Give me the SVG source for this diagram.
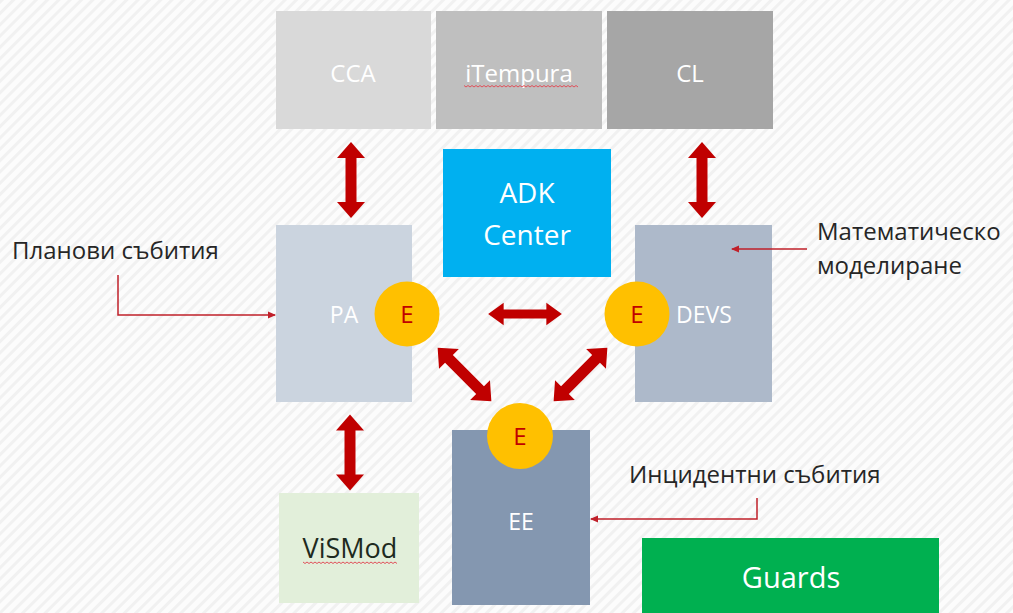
<svg xmlns="http://www.w3.org/2000/svg" xmlns:xlink="http://www.w3.org/1999/xlink" width="1013" height="613" viewBox="0 0 1013 613">
  <style>
    text { font-family: "Open Sans", "Noto Sans", "DejaVu Sans", sans-serif; }
    .w { fill: #ffffff; text-anchor: middle; }
    .lbl { fill: #262626; font-size: 24px; }
    .e { fill: #c00000; font-size: 24px; text-anchor: middle; }
    .ecirc { fill: #ffc000; }
    .thick { fill: #c00000; }
    .thin { fill: none; stroke: #c0202a; stroke-width: 1.5; }
    .squig { fill: none; stroke: #e0505a; stroke-width: 1; }
  </style>
  <defs>
    <pattern id="bg" width="8" height="8" patternUnits="userSpaceOnUse" patternTransform="rotate(45)">
      <rect width="8" height="8" fill="#fcfcfc"/>
      <rect width="3" height="8" fill="#f1f1f1"/>
    </pattern>
    <path id="dbl" d="M-38 0 L-22 -14 L-22 -5.5 L22 -5.5 L22 -14 L38 0 L22 14 L22 5.5 L-22 5.5 L-22 14 Z"/>
    <marker id="ah" markerWidth="8" markerHeight="8" refX="7" refY="4" orient="auto" markerUnits="userSpaceOnUse">
      <path d="M0 0.5 L8 4 L0 7.5 Z" fill="#c0202a"/>
    </marker>
  </defs>

  <rect width="1013" height="613" fill="url(#bg)"/>

  <g id="CCA">
    <rect x="276" y="11" width="155" height="118" fill="#d9d9d9"/>
    <text class="w" x="353" y="82" font-size="24">CCA</text>
  </g>
  <g id="iTempura">
    <rect x="436" y="11" width="166" height="118" fill="#bfbfbf"/>
    <text class="w" x="519" y="82" font-size="24">iTempura</text>
    <path class="squig" d="M464 85.5 l2 1.5 l2 -1.5 l2 1.5 l2 -1.5 l2 1.5 l2 -1.5 l2 1.5 l2 -1.5 l2 1.5 l2 -1.5 l2 1.5 l2 -1.5 l2 1.5 l2 -1.5 l2 1.5 l2 -1.5 l2 1.5 l2 -1.5 l2 1.5 l2 -1.5 l2 1.5 l2 -1.5 l2 1.5 l2 -1.5 l2 1.5 l2 -1.5 l2 1.5 l2 -1.5 l2 1.5 l2 -1.5 l2 1.5 l2 -1.5 l2 1.5 l2 -1.5 l2 1.5 l2 -1.5 l2 1.5 l2 -1.5 l2 1.5 l2 -1.5 l2 1.5 l2 -1.5 l2 1.5 l2 -1.5 l2 1.5 l2 -1.5 l2 1.5 l2 -1.5 l2 1.5 l2 -1.5 l2 1.5 l2 -1.5 l2 1.5 l2 -1.5 l2 1.5 l2 -1.5 l2 1.5"/>
  </g>
  <g id="CL">
    <rect x="607" y="11" width="166" height="118" fill="#a6a6a6"/>
    <text class="w" x="690" y="82" font-size="24">CL</text>
  </g>

  <g id="ADK">
    <rect x="443" y="149" width="168" height="128" fill="#00b0f0"/>
    <text class="w" x="527" y="203" font-size="28">ADK</text>
    <text class="w" x="527" y="245" font-size="28">Center</text>
  </g>

  <g id="PA">
    <rect x="276" y="225" width="136" height="177" fill="#cbd4df"/>
    <text class="w" x="344" y="323" font-size="23">PA</text>
  </g>
  <g id="DEVS">
    <rect x="635" y="225" width="137" height="177" fill="#adb9ca"/>
    <text class="w" x="704" y="323" font-size="23">DEVS</text>
  </g>
  <g id="ViSMod">
    <rect x="279" y="493" width="140" height="110" fill="#e2efda"/>
    <text x="350" y="558" font-size="27" fill="#1e2a1e" text-anchor="middle">ViSMod</text>
    <path class="squig" d="M303 562 l2 1.5 l2 -1.5 l2 1.5 l2 -1.5 l2 1.5 l2 -1.5 l2 1.5 l2 -1.5 l2 1.5 l2 -1.5 l2 1.5 l2 -1.5 l2 1.5 l2 -1.5 l2 1.5 l2 -1.5 l2 1.5 l2 -1.5 l2 1.5 l2 -1.5 l2 1.5 l2 -1.5 l2 1.5 l2 -1.5 l2 1.5 l2 -1.5 l2 1.5 l2 -1.5 l2 1.5 l2 -1.5 l2 1.5 l2 -1.5 l2 1.5 l2 -1.5 l2 1.5 l2 -1.5 l2 1.5 l2 -1.5 l2 1.5 l2 -1.5 l2 1.5 l2 -1.5 l2 1.5 l2 -1.5 l2 1.5 l2 -1.5 l2 1.5"/>
  </g>
  <g id="EE">
    <rect x="452" y="430" width="138" height="175" fill="#8497b0"/>
    <text class="w" x="521" y="530" font-size="23">EE</text>
  </g>
  <g id="Guards">
    <rect x="642" y="538" width="297" height="75" fill="#00b050"/>
    <text class="w" x="791" y="588" font-size="29">Guards</text>
  </g>

  <g id="E-PA">
    <circle class="ecirc" cx="407" cy="314" r="32.5"/>
    <text class="e" x="407" y="323">E</text>
  </g>
  <g id="E-DEVS">
    <circle class="ecirc" cx="637" cy="314" r="32.5"/>
    <text class="e" x="637" y="323">E</text>
  </g>
  <g id="E-EE">
    <circle class="ecirc" cx="520" cy="436" r="33"/>
    <text class="e" x="520" y="445">E</text>
  </g>

  <g id="label-plan">
    <text class="lbl" x="12" y="259">Планови събития</text>
  </g>
  <g id="label-math">
    <text class="lbl" x="817" y="240">Математическо</text>
    <text class="lbl" x="817" y="274">моделиране</text>
  </g>
  <g id="label-incident">
    <text class="lbl" x="629" y="483">Инцидентни събития</text>
  </g>

  <g id="connectors">
    <use xlink:href="#dbl" class="thick" transform="translate(351 180) rotate(90)"/>
    <use xlink:href="#dbl" class="thick" transform="translate(702 180) rotate(90)"/>
    <use xlink:href="#dbl" class="thick" transform="translate(350 452.5) rotate(90)"/>
    <use xlink:href="#dbl" class="thick" transform="translate(525 314) scale(0.97 0.8)"/>
    <use xlink:href="#dbl" class="thick" transform="translate(464.5 374.5) rotate(45)"/>
    <use xlink:href="#dbl" class="thick" transform="translate(580.5 374.5) rotate(-45)"/>
    <path class="thin" d="M118 275 V315 H275" marker-end="url(#ah)"/>
    <path class="thin" d="M807 249 H732" marker-end="url(#ah)"/>
    <path class="thin" d="M757 498 V519 H591" marker-end="url(#ah)"/>
  </g>
</svg>
